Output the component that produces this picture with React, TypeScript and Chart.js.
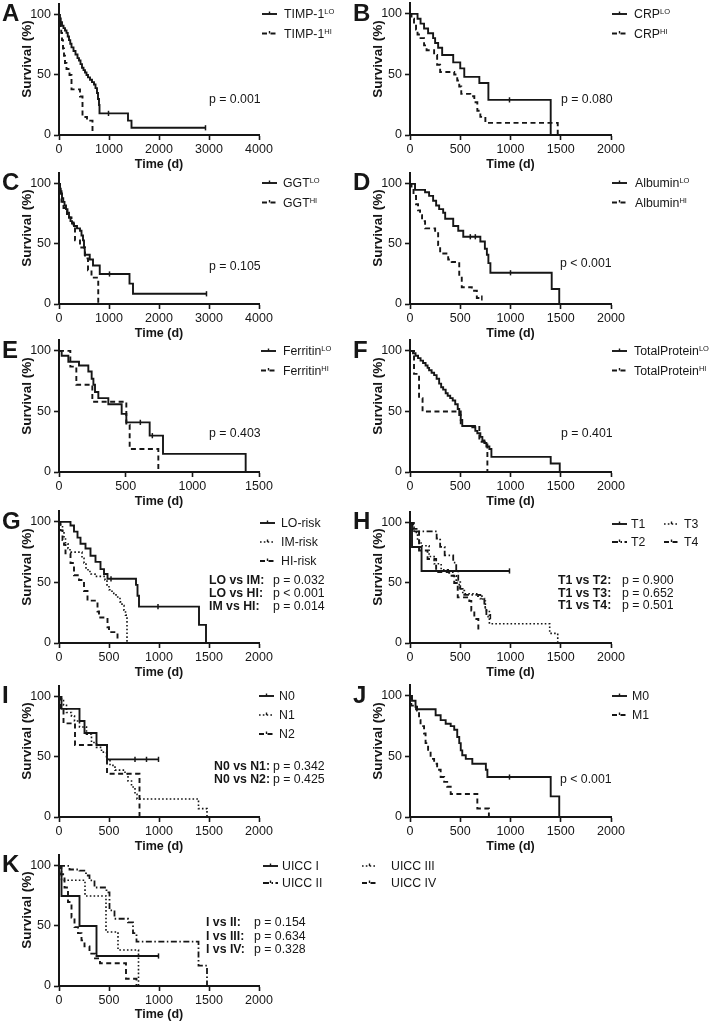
import React, { useEffect, useRef } from "react";
import { Chart, registerables } from "chart.js";
Chart.register(...registerables);

// ---------- tick values ----------
const X_TICKS_4000 = [0, 1000, 2000, 3000, 4000];
const X_TICKS_2000 = [0, 500, 1000, 1500, 2000];
const X_TICKS_1500 = [0, 500, 1000, 1500];
const Y_TICKS = [0, 50, 100];

// ---------- Kaplan-Meier data: [time (d), survival (%), censored?] ----------
const A_LO = [[0,100],[15,97],[35,94],[60,91],[90,89],[120,87],[150,85],[175,82],[200,79],[225,76],[250,73],[290,70],[330,67],[370,64],[400,62],[430,59],[460,56],[490,54],[520,52],[550,50],[580,48],[620,46],[660,44],[700,42],[730,39],[760,35],[780,30],[800,25],[810,18],[990,18,1],[1380,12],[1450,6],[2930,6,1]];
const A_HI = [[0,100],[15,95],[30,90],[45,85],[60,79],[80,72],[100,66],[120,60],[150,55],[210,50],[250,38],[420,32],[470,15],[560,12],[670,0]];

const B_LO = [[0,100],[75,96],[105,92],[140,88],[180,84],[230,80],[250,76],[280,72],[320,66],[430,60],[500,55],[540,48],[690,43],[780,29],[990,29,1],[1400,0]];
const B_HI = [[0,100],[15,96],[40,92],[60,87],[75,83],[105,80],[140,74],[165,70],[240,66],[270,58],[300,52],[440,50],[470,45],[490,40],[510,34],[600,32],[640,27],[670,20],[700,15],[750,10],[1470,0]];

const C_LO = [[0,100],[15,96],[35,92],[60,88],[85,85],[110,82],[140,79],[170,76],[200,72],[230,69],[260,67],[300,65],[360,63],[420,61],[450,57],[480,53],[500,47],[515,41],[615,37],[680,32],[815,25],[1010,25,1],[1410,17],[1480,8.5],[2950,8.5,1]];
const C_HI = [[0,100],[20,94],[50,85],[90,80],[120,78],[160,75],[200,72],[250,68],[290,64],[320,53],[420,47],[520,38],[580,28],[650,22],[785,0]];

const D_LO = [[0,100],[50,95],[150,93],[190,90],[230,86],[260,82],[290,79],[330,76],[350,71],[430,65],[480,61],[530,56],[600,56,1],[650,56,1],[700,52],[745,46],[765,41],[780,34],[800,26],[1000,26,1],[1410,12.5],[1485,0]];
const D_HI = [[0,100],[15,96],[35,90],[60,83],[80,78],[100,74],[120,69],[150,63],[250,60],[280,49],[300,42],[380,37],[415,35],[490,23],[515,14],[615,11],[665,5],[715,5,1]];

const E_LO = [[0,100],[20,96],[70,91],[150,88],[220,83],[245,77],[258,72],[270,66],[295,61],[370,56],[470,48],[505,41],[610,41,1],[680,30],[700,30,1],[780,15],[1400,0]];
const E_HI = [[0,100],[85,87],[130,72],[250,58],[505,39],[530,19],[745,0]];

const F_LO = [[0,100],[30,98],[55,96],[80,94],[105,92],[130,90],[155,88],[175,86],[190,84],[215,82],[240,80],[265,77],[290,73],[310,70],[330,68],[355,65],[375,63],[400,61],[425,59],[450,56],[475,52],[490,47],[505,43],[520,38],[620,37],[650,34],[670,32],[700,29],[720,26],[740,24],[760,21],[790,19],[810,12.5],[1400,7],[1490,0]];
const F_HI = [[0,100],[40,81],[90,61],[125,50],[505,38],[690,25],[770,0]];

const G_LO = [[0,100],[115,97],[150,92],[185,87],[215,82],[265,78],[315,72],[365,67],[415,61],[450,57],[485,53],[520,53,1],[770,48],[785,39],[800,30],[990,30,1],[1400,15],[1470,0]];
const G_IM = [[0,100],[15,96],[35,92],[50,87],[65,82],[90,78],[110,75],[230,70],[250,66],[270,62],[290,59],[320,57],[360,55],[460,52],[480,48],[500,44],[530,41],[570,38],[610,34],[630,31],[650,27],[665,23],[680,0]];
const G_HI = [[0,100],[15,93],[35,85],[50,81],[65,74],[115,66],[150,56],[200,52],[250,43],[285,35],[385,26],[400,21],[485,13],[500,9],[585,0]];

const H_T1 = [[0,100],[20,80],[115,60],[990,60,1]];
const H_T2 = [[0,100],[25,93],[265,87],[300,80],[345,73],[430,67],[460,60],[480,52],[500,45],[540,40],[700,37],[740,30],[760,22],[800,22,1]];
const H_T3 = [[0,100],[40,92],[75,85],[110,81],[190,72],[240,66],[310,61],[380,59],[430,56],[460,50],[490,46],[525,41],[675,39],[725,35],[750,27],[790,16],[1390,8],[1470,0]];
const H_T4 = [[0,100],[30,95],[90,77],[175,70],[260,59],[390,56],[440,50],[475,38],[590,35],[610,27],[640,20],[680,9]];

const I_N0 = [[0,100],[25,90],[205,80],[255,70],[375,60],[480,48],[760,48,1],[875,48,1],[995,48,1]];
const I_N1 = [[0,100],[25,97],[45,93],[75,87],[125,84],[155,80],[205,75],[275,69],[325,62],[375,58],[425,54],[475,48],[510,43],[560,39],[660,36],[690,30],[725,25],[760,19],[780,15],[1395,7],[1480,0]];
const I_N2 = [[0,100],[15,89],[45,78],[160,60],[480,36],[805,0]];

const J_M0 = [[0,100],[20,96],[55,91],[60,89],[255,84],[305,80],[355,77],[405,75],[440,72],[470,66],[490,61],[505,55],[520,51],[555,48],[620,44],[755,39],[770,33],[990,33,1],[1400,17],[1485,0]];
const J_M1 = [[0,100],[13,92],[70,88],[90,80],[105,75],[140,69],[155,61],[180,54],[205,48],[240,44],[270,39],[305,33],[340,29],[370,25],[405,19],[670,7],[785,0]];

const K_I = [[0,100],[25,75],[205,50],[375,25],[995,25,1]];
const K_II = [[0,100],[105,97],[205,96],[270,92],[305,88],[355,82],[475,78],[505,63],[555,56],[690,53],[740,44],[775,37],[1395,17],[1480,0]];
const K_III = [[0,100],[25,88],[260,75],[470,45],[590,30],[795,0]];
const K_IV = [[0,100],[20,93],[55,82],[90,70],[125,57],[155,49],[190,44],[225,38],[255,33],[305,27],[360,23],[410,19],[670,6],[775,0]];

// ---------- styling / layout ----------
const INK = "#161616";
const FONT = 'Arial, "Liberation Sans", Helvetica, sans-serif';
type Style = "solid" | "dash" | "dot" | "dashdot";
const DASH: Record<Style, number[]> = {
  solid: [],
  dash: [5, 3.5],
  dot: [1.6, 2.2],
  dashdot: [6, 2.5, 1.5, 2.5],
};
const WIDTH: Record<Style, number> = { solid: 1.9, dash: 1.9, dot: 1.6, dashdot: 1.8 };

interface Series { label: string; sup?: string; pts: number[][]; style: Style; sx: number; tx: number; ly: number; }
interface Cmp { label: string; p: string; y: number; }
interface PanelDef {
  letter: string; ox: number; oy: number; w: number; h: number;
  left: number; right: number; xMax: number; xTicks: number[];
  series: Series[];
  pText?: { text: string; x: number; y: number };
  cmp?: { lx: number; px: number; rows: Cmp[] };
}

const L = (label: string, sup: string | undefined, pts: number[][], style: Style, sx: number, tx: number, ly: number): Series => ({ label, sup, pts, style, sx, tx, ly });

const PANELS: PanelDef[] = [
  { letter: "A", ox: 0, oy: 0, w: 354, h: 172, left: 59, right: 259, xMax: 4000, xTicks: X_TICKS_4000,
    series: [L("TIMP-1", "LO", A_LO, "solid", 262, 284, 14), L("TIMP-1", "HI", A_HI, "dash", 262, 284, 33.5)],
    pText: { text: "p = 0.001", x: 209, y: 99 } },
  { letter: "B", ox: 354, oy: 0, w: 355, h: 172, left: 56, right: 257, xMax: 2000, xTicks: X_TICKS_2000,
    series: [L("CRP", "LO", B_LO, "solid", 258, 280, 14), L("CRP", "HI", B_HI, "dash", 258, 280, 33.5)],
    pText: { text: "p = 0.080", x: 207, y: 99 } },
  { letter: "C", ox: 0, oy: 169, w: 354, h: 172, left: 59, right: 259, xMax: 4000, xTicks: X_TICKS_4000,
    series: [L("GGT", "LO", C_LO, "solid", 262, 283, 14), L("GGT", "HI", C_HI, "dash", 262, 283, 33.5)],
    pText: { text: "p = 0.105", x: 209, y: 97 } },
  { letter: "D", ox: 354, oy: 169, w: 355, h: 172, left: 56, right: 257, xMax: 2000, xTicks: X_TICKS_2000,
    series: [L("Albumin", "LO", D_LO, "solid", 258, 281, 14), L("Albumin", "HI", D_HI, "dash", 258, 281, 33.5)],
    pText: { text: "p < 0.001", x: 206, y: 94 } },
  { letter: "E", ox: 0, oy: 337, w: 354, h: 172, left: 59, right: 259, xMax: 1500, xTicks: X_TICKS_1500,
    series: [L("Ferritin", "LO", E_LO, "solid", 261, 283, 14), L("Ferritin", "HI", E_HI, "dash", 261, 283, 33.5)],
    pText: { text: "p = 0.403", x: 209, y: 96 } },
  { letter: "F", ox: 354, oy: 337, w: 355, h: 172, left: 56, right: 257, xMax: 2000, xTicks: X_TICKS_2000,
    series: [L("TotalProtein", "LO", F_LO, "solid", 258, 280, 14), L("TotalProtein", "HI", F_HI, "dash", 258, 280, 33.5)],
    pText: { text: "p = 0.401", x: 207, y: 96 } },
  { letter: "G", ox: 0, oy: 508, w: 354, h: 172, left: 59, right: 259, xMax: 2000, xTicks: X_TICKS_2000,
    series: [L("LO-risk", undefined, G_LO, "solid", 260, 281, 15), L("IM-risk", undefined, G_IM, "dot", 260, 281, 34), L("HI-risk", undefined, G_HI, "dash", 260, 281, 53)],
    cmp: { lx: 209, px: 273, rows: [{ label: "LO vs IM:", p: "p = 0.032", y: 72 }, { label: "LO vs HI:", p: "p < 0.001", y: 85 }, { label: "IM vs HI:", p: "p = 0.014", y: 98 }] } },
  { letter: "H", ox: 354, oy: 508, w: 355, h: 172, left: 56, right: 257, xMax: 2000, xTicks: X_TICKS_2000,
    series: [L("T1", undefined, H_T1, "solid", 258, 277, 16), L("T2", undefined, H_T2, "dashdot", 258, 277, 34), L("T3", undefined, H_T3, "dot", 310, 330, 16), L("T4", undefined, H_T4, "dash", 310, 330, 34)],
    cmp: { lx: 204, px: 268, rows: [{ label: "T1 vs T2:", p: "p = 0.900", y: 72 }, { label: "T1 vs T3:", p: "p = 0.652", y: 84.5 }, { label: "T1 vs T4:", p: "p = 0.501", y: 97 }] } },
  { letter: "I", ox: 0, oy: 682, w: 354, h: 172, left: 59, right: 259, xMax: 2000, xTicks: X_TICKS_2000,
    series: [L("N0", undefined, I_N0, "solid", 259, 279, 14), L("N1", undefined, I_N1, "dot", 259, 279, 33), L("N2", undefined, I_N2, "dash", 259, 279, 52)],
    cmp: { lx: 214, px: 273, rows: [{ label: "N0 vs N1:", p: "p = 0.342", y: 84 }, { label: "N0 vs N2:", p: "p = 0.425", y: 97 }] } },
  { letter: "J", ox: 354, oy: 682, w: 355, h: 172, left: 56, right: 257, xMax: 2000, xTicks: X_TICKS_2000,
    series: [L("M0", undefined, J_M0, "solid", 258, 278, 14), L("M1", undefined, J_M1, "dash", 258, 278, 33)],
    pText: { text: "p < 0.001", x: 206, y: 97 } },
  { letter: "K", ox: 0, oy: 851, w: 400, h: 171, left: 59, right: 259, xMax: 2000, xTicks: X_TICKS_2000,
    series: [L("UICC I", undefined, K_I, "solid", 263, 282, 15), L("UICC II", undefined, K_II, "dashdot", 263, 282, 32), L("UICC III", undefined, K_III, "dot", 362, 391, 15), L("UICC IV", undefined, K_IV, "dash", 362, 391, 32)],
    cmp: { lx: 206, px: 254, rows: [{ label: "I vs II:", p: "p = 0.154", y: 71 }, { label: "I vs III:", p: "p = 0.634", y: 85 }, { label: "I vs IV:", p: "p = 0.328", y: 98 }] } },
];

function makeConfig(p: PanelDef): any {
  const tickFont = { family: FONT, size: 12.5 };
  const legendSamples = {
    id: "kmLegendSamples",
    afterDraw(chart: any) {
      const ctx = chart.ctx;
      p.series.forEach((s) => {
        ctx.save();
        ctx.strokeStyle = INK;
        ctx.lineWidth = WIDTH[s.style];
        ctx.setLineDash(DASH[s.style]);
        ctx.beginPath();
        ctx.moveTo(s.sx, s.ly);
        ctx.lineTo(s.sx + 15, s.ly);
        ctx.stroke();
        ctx.setLineDash([]);
        ctx.lineWidth = 1.4;
        ctx.beginPath();
        ctx.moveTo(s.sx + 7.5, s.ly - 2.5);
        ctx.lineTo(s.sx + 7.5, s.ly);
        ctx.stroke();
        ctx.restore();
      });
    },
  };
  return {
    type: "line",
    data: {
      datasets: p.series.map((s) => ({
        label: s.label + (s.sup || ""),
        data: s.pts.map((q) => ({ x: q[0], y: q[1], c: q[2] ? 1 : 0 })),
        borderColor: INK,
        borderWidth: WIDTH[s.style],
        borderDash: DASH[s.style],
        stepped: "before",
        fill: false,
        pointRadius: (c: any) => (c.raw && c.raw.c ? 2.6 : 0),
        pointHoverRadius: 0,
        pointStyle: "line",
        pointRotation: 90,
        pointBorderColor: INK,
        pointBackgroundColor: INK,
        pointBorderWidth: 1.5,
      })),
    },
    options: {
      responsive: false,
      animation: false,
      devicePixelRatio: 1,
      events: [],
      layout: { padding: { left: 0, top: 3, right: p.w - p.right, bottom: 0 } },
      plugins: { legend: { display: false }, tooltip: { enabled: false } },
      scales: {
        x: {
          type: "linear",
          position: "bottom",
          min: 0,
          max: p.xMax,
          afterFit: (s: any) => { s.height = p.h - 135; s.paddingLeft = 0; s.paddingRight = 0; },
          afterBuildTicks: (s: any) => { s.ticks = p.xTicks.map((v) => ({ value: v })); },
          ticks: { font: tickFont, color: INK, padding: 2, maxRotation: 0, autoSkip: false, callback: (v: any) => String(v) },
          grid: { drawOnChartArea: false, drawTicks: true, tickLength: 5, tickWidth: 1.6, tickColor: INK, color: INK },
          border: { display: true, color: INK, width: 2 },
          title: { display: true, text: "Time (d)", color: INK, font: { family: FONT, size: 12.5, weight: "bold" }, padding: { top: 0, bottom: 0 } },
        },
        y: {
          type: "linear",
          position: "left",
          min: 0,
          max: 109,
          afterFit: (s: any) => { s.width = p.left; s.paddingTop = 0; s.paddingBottom = 0; },
          afterBuildTicks: (s: any) => { s.ticks = Y_TICKS.map((v) => ({ value: v })); },
          ticks: { font: tickFont, color: INK, padding: 3, autoSkip: false, callback: (v: any) => String(v) },
          grid: { drawOnChartArea: false, drawTicks: true, tickLength: 5, tickWidth: 1.6, tickColor: INK, color: INK },
          border: { display: true, color: INK, width: 2 },
          title: { display: false },
        },
      },
    },
    plugins: [legendSamples],
  };
}

const textBase: React.CSSProperties = {
  position: "absolute",
  whiteSpace: "nowrap",
  color: INK,
  fontFamily: FONT,
};

function KMPanel({ p }: { p: PanelDef }) {
  const ref = useRef<HTMLCanvasElement | null>(null);
  useEffect(() => {
    if (!ref.current) return;
    const chart = new Chart(ref.current, makeConfig(p));
    return () => chart.destroy();
  }, [p]);
  const isLeft = p.ox === 0;
  return (
    <div style={{ position: "absolute", left: p.ox, top: p.oy, width: p.w, height: p.h }}>
      <canvas ref={ref} width={p.w} height={p.h} style={{ position: "absolute", left: 0, top: 0 }} />
      <div style={{ ...textBase, left: isLeft ? 2 : -1, top: 1, fontSize: 24, lineHeight: "24px", fontWeight: "bold" }}>{p.letter}</div>
      <div style={{ ...textBase, left: p.left - 32, top: 59, fontSize: 13.5, lineHeight: "14px", fontWeight: "bold", transform: "translate(-50%, -50%) rotate(-90deg)" }}>Survival (%)</div>
      {p.series.map((s, i) => (
        <div key={i} style={{ ...textBase, left: s.tx, top: s.ly, fontSize: 12.3, lineHeight: "12px", transform: "translateY(-50%)" }}>
          {s.label}
          {s.sup ? <span style={{ fontSize: 7.5, position: "relative", top: -4, lineHeight: "0" }}>{s.sup}</span> : null}
        </div>
      ))}
      {p.pText ? (
        <div style={{ ...textBase, left: p.pText.x, top: p.pText.y, fontSize: 12.3, lineHeight: "12px", transform: "translateY(-50%)" }}>{p.pText.text}</div>
      ) : null}
      {p.cmp
        ? p.cmp.rows.map((r, i) => (
            <React.Fragment key={i}>
              <div style={{ ...textBase, left: p.cmp!.lx, top: r.y, fontSize: 12.3, lineHeight: "12px", fontWeight: "bold", transform: "translateY(-50%)" }}>{r.label}</div>
              <div style={{ ...textBase, left: p.cmp!.px, top: r.y, fontSize: 12.3, lineHeight: "12px", transform: "translateY(-50%)" }}>{r.p}</div>
            </React.Fragment>
          ))
        : null}
    </div>
  );
}

export default function App() {
  return (
    <div style={{ position: "absolute", left: 0, top: 0, width: 709, height: 1022, overflow: "hidden", background: "#fff" }}>
      {PANELS.map((p) => (
        <KMPanel key={p.letter} p={p} />
      ))}
    </div>
  );
}
